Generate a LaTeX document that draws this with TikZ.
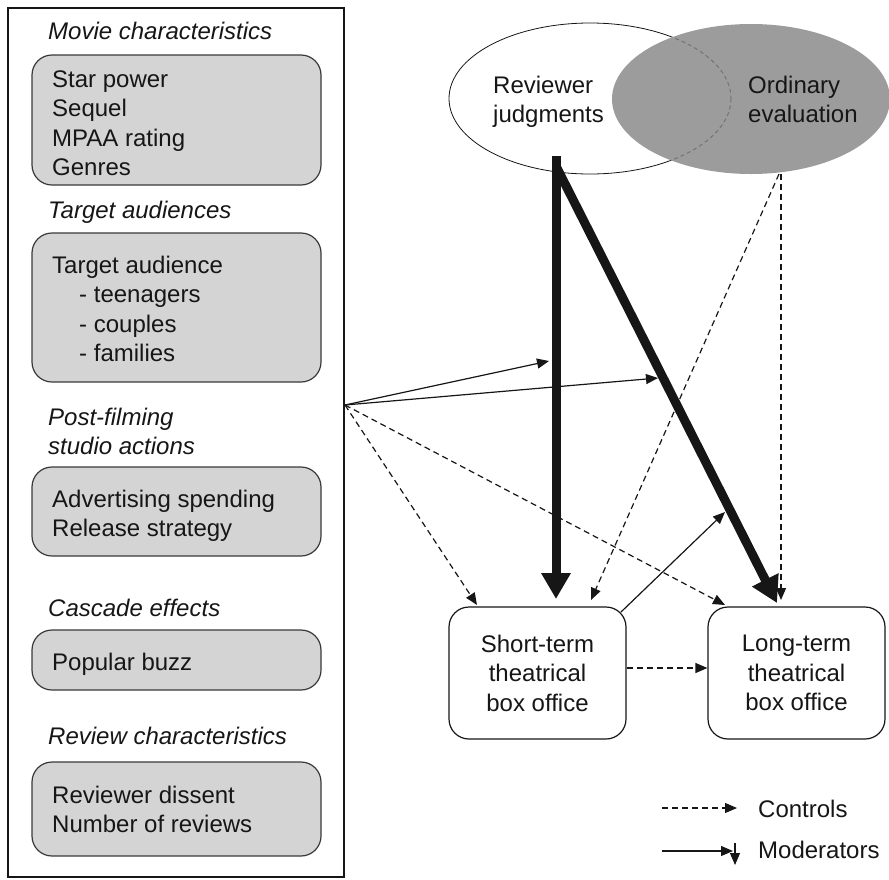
\documentclass[tikz,border=0pt]{standalone}
\usepackage{fontspec}
\setmainfont{Liberation Sans}
\usetikzlibrary{arrows.meta,shapes.geometric}
\definecolor{boxgray}{HTML}{D4D4D4}
\definecolor{ellgray}{HTML}{9C9C9C}
\definecolor{ink}{HTML}{161616}
\begin{document}
\begin{tikzpicture}[x=1pt,y=-1pt,
  font=\fontsize{24}{29.5}\selectfont,
  txt/.style={inner sep=0pt, align=left, anchor=base west, text=ink},
  head/.style={txt, font=\fontsize{24}{29.5}\selectfont\itshape},
  gbox/.style={draw=ink!85, line width=1.2pt, fill=boxgray, rounded corners=20pt, minimum width=289pt, inner sep=0pt},
  obox/.style={draw=ink, line width=1.2pt, fill=white, rounded corners=20pt, minimum width=177pt, minimum height=132pt, align=center, inner sep=0pt, text=ink},
  bigarr/.style={draw=ink, line width=9pt, -{Triangle[length=26pt,width=28pt]}},
  modarr/.style={draw=ink, line width=1.2pt, -{Triangle[length=12pt,width=10pt]}},
  ctrlarr/.style={modarr, dash pattern=on 6pt off 4pt}]
\useasboundingbox (0,0) rectangle (889,879);

% left panel
\node[draw=ink, line width=2pt, minimum width=336pt, minimum height=869pt, inner sep=0pt] (panel) at (176,442.5) {};

% (base anchor of a multi-line node = baseline of its last line)
\node[head] (h1) at (48,39) {Movie characteristics};
\node[gbox, minimum height=130pt] (b1) at (176.5,120) {};
\node[txt] (t1) at (52,175.5) {Star power\\Sequel\\MPAA rating\\Genres};

\node[head] (h2) at (48,218) {Target audiences};
\node[gbox, minimum height=149pt] (b2) at (176.5,307.5) {};
\node[txt] (t2) at (52,361.5) {Target audience\\\hspace*{27pt}- teenagers\\\hspace*{27pt}- couples\\\hspace*{27pt}- families};

\node[head] (h3) at (48,454.5) {Post-filming\\studio actions};
\node[gbox, minimum height=89pt] (b3) at (176.5,511.5) {};
\node[txt] (t3) at (52,536.5) {Advertising spending\\Release strategy};

\node[head] (h4) at (48,616) {Cascade effects};
\node[gbox, minimum height=60pt] (b4) at (176.5,660) {};
\node[txt] (t4) at (52,670) {Popular buzz};

\node[head] (h5) at (48,744) {Review characteristics};
\node[gbox, minimum height=94pt] (b5) at (176.5,809) {};
\node[txt] (t5) at (52,832.5) {Reviewer dissent\\Number of reviews};

% ellipses
\node[ellipse, draw=ink, line width=0.8pt, minimum width=282pt, minimum height=151pt, inner sep=0pt] (rj) at (590,98.5) {};
\node[ellipse, fill=ellgray, minimum width=278pt, minimum height=150pt, inner sep=0pt] (oe) at (751,99) {};
\begin{scope}
  \clip (751,99) ellipse [x radius=139, y radius=75];
  \draw[ink!60, line width=1pt, dash pattern=on 4pt off 3pt] (590,98.5) ellipse [x radius=141, y radius=75.5];
\end{scope}
\node[txt] (rjt) at (493,122.5) {Reviewer\\judgments};
\node[txt] (oet) at (748,122.5) {Ordinary\\evaluation};

% outcome boxes
\node[obox] (sb) at (537.5,673) {Short-term\\theatrical\\box office};
\node[obox] (lb) at (796.5,673) {Long-term\\theatrical\\box office};

% coordinates
\coordinate (src) at (345,405);
\coordinate (vtop) at (556,156);
\coordinate (vend) at (556,599);
\coordinate (dtop) at (557,168);
\coordinate (dend) at (777,603);
\coordinate (m1) at (549,361);
\coordinate (m2) at (658,378);
\coordinate (m3) at (725,512);
\coordinate (sbc) at (621,612);
\coordinate (c1) at (477,605);
\coordinate (c2) at (725,605);
\coordinate (oa) at (779,174);
\coordinate (ob) at (781,174);
\coordinate (c3) at (591,600);
\coordinate (c4) at (781,600);

% thick arrows
\draw[bigarr] (dtop) -- (dend);
\draw[bigarr] (vtop) -- (vend);

% controls
\draw[ctrlarr] (src) -- (c1);
\draw[ctrlarr] (src) -- (c2);
\draw[ctrlarr] (oa) -- (c3);
\draw[ctrlarr] (ob) -- (c4);
\draw[ctrlarr] ([yshift=5pt]sb.east) -- ([yshift=5pt]lb.west);

% moderators
\draw[modarr] (src) -- (m1);
\draw[modarr] (src) -- (m2);
\draw[modarr] (sbc) -- (m3);

% legend
\coordinate (l1a) at (662,808);
\coordinate (l1b) at (737,808);
\coordinate (l2a) at (662,851);
\coordinate (l2b) at (733,851);
\coordinate (l3a) at (735,843);
\coordinate (l3b) at (735,865);
\draw[ctrlarr] (l1a) -- (l1b);
\draw[modarr] (l2a) -- (l2b);
\draw[modarr] (l3a) -- (l3b);
\node[txt] (lc) at (758,817) {Controls};
\node[txt] (lm) at (758,858) {Moderators};
\end{tikzpicture}
\end{document}
